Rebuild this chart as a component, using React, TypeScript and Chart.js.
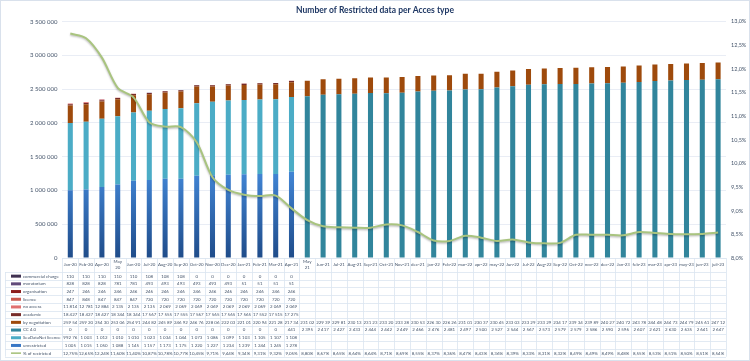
import React, { useEffect, useRef } from 'react';
import { Chart, registerables } from 'chart.js';
Chart.register(...registerables);

const categories = ['Jan-20','Feb-20','Apr-20','May 20','Jun-20','Jul-20','Aug-20','Sep-20','Oct-20','Nov-20','Dec-20','Jan-21','Feb-21','Mar-21','Apr-21','May 21','Jun-21','Jul-21','Aug-21','Sep-21','Oct-21','Nov-21','dec-21','jan-22','Feb-22','mar-22','apr-22','may-22','Jun-22','Jul-22','Aug-22','Sep-22','Oct-22','nov-22','dec-22','Jan-23','feb-23','mar-23','apr-23','may-23','jun-23','juil-23'];

const N = null;
const commercialCharge = [110,110,110,110,110,108,108,108,0,0,0,0,0,0,0, N,N,N,N,N,N,N,N,N,N,N,N,N,N,N,N,N,N,N,N,N,N,N,N,N,N,N];
const moratorium = [828,828,828,781,781,493,493,493,493,493,493,51,51,51,51, N,N,N,N,N,N,N,N,N,N,N,N,N,N,N,N,N,N,N,N,N,N,N,N,N,N,N];
const organisation = [247,246,246,246,246,246,246,246,246,246,246,246,246,246,246, N,N,N,N,N,N,N,N,N,N,N,N,N,N,N,N,N,N,N,N,N,N,N,N,N,N,N];
const licence = [847,848,847,847,847,720,720,720,720,720,720,720,720,720,720, N,N,N,N,N,N,N,N,N,N,N,N,N,N,N,N,N,N,N,N,N,N,N,N,N,N,N];
const noAccess = [11814,12781,12884,2135,2135,2135,2069,2069,2069,2069,2069,2069,2069,2069,2069, N,N,N,N,N,N,N,N,N,N,N,N,N,N,N,N,N,N,N,N,N,N,N,N,N,N,N];
const academic = [18427,18427,18427,18344,18344,17567,17555,17555,17567,17565,17565,17565,17552,17515,17275, N,N,N,N,N,N,N,N,N,N,N,N,N,N,N,N,N,N,N,N,N,N,N,N,N,N,N];
const byNegotiation = [259540,259200,254300,253060,254910,244820,245890,246920,246760,228060,222030,221010,220940,221280,217340,231020,229390,229810,230130,231230,233200,233280,230530,226300,226260,231010,230370,230450,233030,233290,233290,234170,239340,239890,240270,240720,243780,244480,244730,244790,245610,247120];
const cc40 = [0,0,0,0,0,0,0,0,0,0,0,0,0,0,441,2395000,2417000,2427000,2433000,2444000,2442000,2449000,2466000,2476000,2481000,2497000,2500000,2527000,2544000,2567000,2573000,2579000,2579000,2586000,2590000,2596000,2607000,2621000,2630000,2635000,2641000,2647000];
const seaDataNetLicence = [992760,1003000,1012000,1010000,1010000,1023000,1034000,1044000,1073000,1086000,1099000,1103000,1105000,1107000,1108000, N,N,N,N,N,N,N,N,N,N,N,N,N,N,N,N,N,N,N,N,N,N,N,N,N,N,N];
const unrestricted = [1005000,1015000,1050000,1088000,1145000,1157000,1173000,1175000,1220000,1227000,1234000,1239000,1244000,1245000,1278000, N,N,N,N,N,N,N,N,N,N,N,N,N,N,N,N,N,N,N,N,N,N,N,N,N,N,N];
const pctRestricted = [12.75,12.65,12.24,11.60,11.40,10.87,10.78,10.77,10.45,9.71,9.44,9.34,9.31,9.32,9.05,8.80,8.67,8.65,8.64,8.64,8.71,8.69,8.55,8.37,8.36,8.47,8.43,8.36,8.39,8.33,8.31,8.32,8.49,8.49,8.49,8.48,8.55,8.53,8.51,8.50,8.51,8.54];

const leftTicks = [0, 500000, 1000000, 1500000, 2000000, 2500000, 3000000, 3500000];
const rightTicks = [8, 8.5, 9, 9.5, 10, 10.5, 11, 11.5, 12, 12.5, 13];

const FONT = 'Lato';
const TEXT = '#44546a';
const GRIDC = '#dbe4f0';

const fmtNum = (v: number) => String(v).replace(/\B(?=(\d{3})+(?!\d))/g, ' ');
const fmtCell = (v: number | null, pct: boolean) => {
  if (v === null || v === undefined) return '';
  let s = pct ? v.toFixed(2).replace('.', ',') + '%' : fmtNum(v);
  if (s.length > 6) s = s.slice(0, 6).trim();
  return s;
};

export default function App() {
  const ref = useRef<HTMLCanvasElement | null>(null);
  useEffect(() => {
    const canvas = ref.current!;
    const rows = [
      { label: 'commercial charge', data: commercialCharge, color: '#3f3151' },
      { label: 'moratorium', data: moratorium, color: '#604a7b' },
      { label: 'organisation', data: organisation, color: '#8c1d1d' },
      { label: 'licence', data: licence, color: '#c9594f' },
      { label: 'no access', data: noAccess, color: '#e07070' },
      { label: 'academic', data: academic, color: '#772c2a' },
      { label: 'by negotiation', data: byNegotiation, color: '#9e4a0c' },
      { label: 'CC 4.0', data: cc40, color: '#31859c' },
      { label: 'SeaDataNet licence', data: seaDataNetLicence, color: '#4bacc6' },
      { label: 'unrestricted', data: unrestricted, color: '#3a78c6' },
    ];
    const lineColor = '#a9c47f';

    const unrestrictedBg = (c: any) => {
      const chart = c.chart;
      const area = chart.chartArea;
      if (!area) return '#3a78c6';
      const ys = chart.scales.y;
      const g = chart.ctx.createLinearGradient(0, area.bottom, 0, ys.getPixelForValue(1300000));
      g.addColorStop(0, '#1f4c8a');
      g.addColorStop(1, '#4286d6');
      return g;
    };

    const barSets = rows.slice().reverse().map((r) => ({
      type: 'bar' as const,
      label: r.label,
      data: r.data,
      backgroundColor: r.label === 'unrestricted' ? unrestrictedBg : r.color,
      borderWidth: 0,
      yAxisID: 'y',
      stack: 's',
      order: 1,
      barPercentage: 0.32,
      categoryPercentage: 1,
    }));

    const tablePlugin = {
      id: 'tablePlugin',
      beforeDraw(chart: any) {
        const ctx = chart.ctx;
        ctx.save();
        ctx.fillStyle = '#ffffff';
        ctx.fillRect(0, 0, chart.width, chart.height);
        ctx.restore();
      },
      beforeDatasetDraw(chart: any, args: any) {
        if (chart.data.datasets[args.index].type === 'line') {
          const ctx = chart.ctx;
          ctx.save();
          ctx.shadowColor = 'rgba(0,0,0,0.28)';
          ctx.shadowBlur = 2;
          ctx.shadowOffsetY = 1.2;
        }
      },
      afterDatasetDraw(chart: any, args: any) {
        if (chart.data.datasets[args.index].type === 'line') chart.ctx.restore();
      },
      afterDraw(chart: any) {
        const ctx = chart.ctx;
        const xs = chart.scales.x;
        const area = chart.chartArea;
        const n = categories.length;
        const step = (xs.getPixelForValue(1) - xs.getPixelForValue(0));
        const top = area.bottom;
        const headerH = 14;
        const rowH = 7.7;
        const left = 5;
        const right = area.right;
        const allRows = [...rows, { label: '% of restricted', data: pctRestricted, color: lineColor, pct: true }];
        const bottom = top + headerH + allRows.length * rowH;
        ctx.save();
        ctx.strokeStyle = GRIDC;
        ctx.lineWidth = 0.8;
        ctx.beginPath();
        ctx.moveTo(area.left, top + 0.5);
        ctx.lineTo(right, top + 0.5);
        for (let r = 0; r <= allRows.length; r++) {
          const y = Math.round(top + headerH + r * rowH) + 0.5;
          ctx.moveTo(left, y);
          ctx.lineTo(right, y);
        }
        for (let i = 0; i <= n; i++) {
          const xb = Math.round(xs.getPixelForValue(0) - step / 2 + i * step) + 0.5;
          ctx.moveTo(xb, top);
          ctx.lineTo(xb, bottom);
        }
        ctx.moveTo(left + 0.5, top + headerH);
        ctx.lineTo(left + 0.5, bottom);
        ctx.stroke();

        ctx.fillStyle = TEXT;
        ctx.textAlign = 'center';
        ctx.textBaseline = 'middle';
        ctx.font = `4.4px ${FONT}`;
        for (let i = 0; i < n; i++) {
          const cx = xs.getPixelForValue(i);
          const lab = categories[i];
          if (lab.indexOf(' ') >= 0) {
            const parts = lab.split(' ');
            ctx.fillText(parts[0], cx, top + 4);
            ctx.fillText(parts[1], cx, top + 10);
          } else {
            ctx.fillText(lab, cx, top + 7);
          }
        }
        allRows.forEach((r: any, ri: number) => {
          const cy = top + headerH + ri * rowH + rowH / 2 + 0.3;
          if (r.pct) {
            ctx.fillStyle = r.color;
            ctx.fillRect(11, cy - 0.8, 10, 1.6);
          } else {
            ctx.fillStyle = r.color;
            ctx.fillRect(11, cy - 1.5, 10, 3);
          }
          ctx.fillStyle = TEXT;
          ctx.textAlign = 'left';
          ctx.fillText(r.label, 23, cy);
          ctx.textAlign = 'center';
          for (let i = 0; i < n; i++) {
            const s = fmtCell(r.data[i], !!r.pct);
            if (s) ctx.fillText(s, xs.getPixelForValue(i), cy);
          }
        });
        ctx.strokeStyle = '#d9e1ec';
        ctx.lineWidth = 1;
        ctx.strokeRect(0.5, 0.5, chart.width - 1, chart.height - 1);
        ctx.restore();
      },
    };

    const chart = new Chart(canvas, {
      data: {
        labels: categories,
        datasets: [
          {
            type: 'line',
            label: '% of restricted',
            data: pctRestricted,
            borderColor: lineColor,
            backgroundColor: lineColor,
            borderWidth: 2,
            pointRadius: 0,
            tension: 0.3,
            yAxisID: 'y1',
            order: 0,
          } as any,
          ...barSets,
        ],
      },
      options: {
        responsive: false,
        animation: false,
        layout: { padding: { top: 0, bottom: 103, left: 0, right: 0 } },
        plugins: {
          legend: { display: false },
          tooltip: { enabled: false },
          title: {
            display: true,
            text: 'Number of Restricted data per Acces type',
            color: '#1f3864',
            font: { family: FONT, size: 8.5, weight: 'bold' },
            padding: { top: 5, bottom: 6.5 },
          },
        },
        scales: {
          x: {
            display: false,
            stacked: true,
            offset: true,
          },
          y: {
            stacked: true,
            min: 0,
            max: 3500000,
            afterBuildTicks: (s: any) => { s.ticks = leftTicks.map((v) => ({ value: v })); },
            afterFit: (s: any) => { s.width = 62.4; },
            grid: { color: '#e3e9f3', drawTicks: false, lineWidth: 0.8 },
            border: { display: false },
            ticks: {
              color: TEXT,
              font: { family: FONT, size: 6 },
              padding: 5,
              callback: (v: any) => fmtNum(Number(v)),
            },
          },
          y1: {
            position: 'right',
            min: 8,
            max: 13,
            afterBuildTicks: (s: any) => { s.ticks = rightTicks.map((v) => ({ value: v })); },
            afterFit: (s: any) => { s.width = 24; },
            grid: { display: false, drawTicks: false },
            border: { display: false },
            ticks: {
              color: TEXT,
              font: { family: FONT, size: 5.5 },
              padding: 5,
              callback: (v: any) => Number(v).toFixed(1).replace('.', ',') + '%',
            },
          },
        },
      } as any,
      plugins: [tablePlugin],
    });
    return () => chart.destroy();
  }, []);

  return (
    <div style={{ position: 'absolute', left: 0, top: 0, width: 750, height: 361, background: '#fff' }}>
      <canvas ref={ref} width={750} height={361} style={{ display: 'block', width: 750, height: 361 }} />
    </div>
  );
}
